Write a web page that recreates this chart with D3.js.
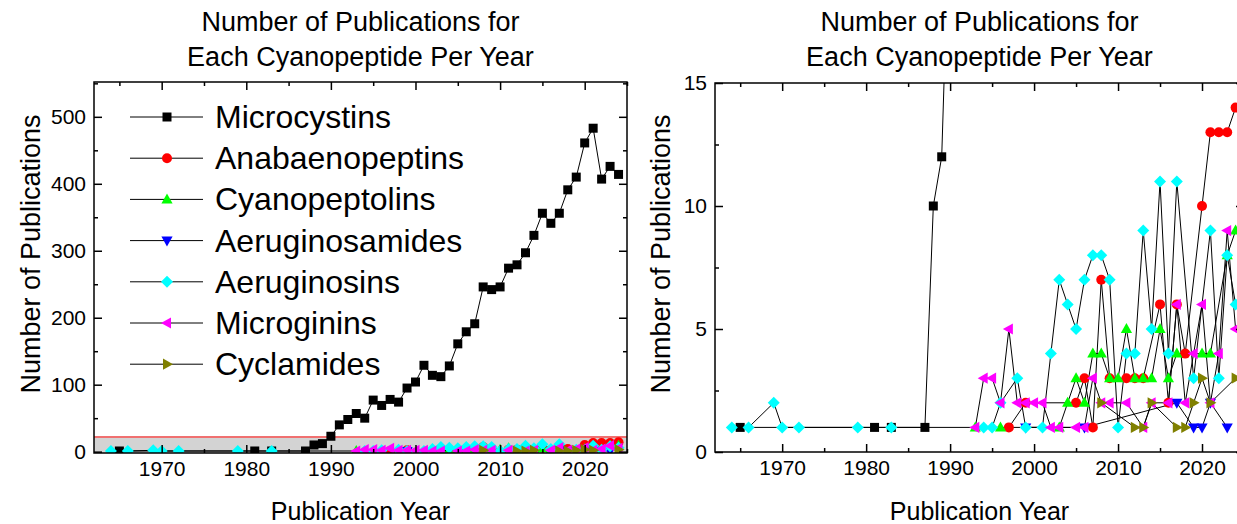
<!DOCTYPE html>
<html lang="en">
<head>
<meta charset="utf-8">
<title>Cyanopeptide Publications</title>
<script src="https://d3js.org/d3.v7.min.js"></script>
<style type="text/css">
	body { margin: 0; background: #fff; }
	svg { display: block; font-family: Arial, "Liberation Sans", sans-serif; }
</style>
</head>
<body>
<script type="text/javascript">

	// publications per year, [year, count] (years with no publications are left out)
	let microcystins = [[1965,1],[1981,1],[1983,1],[1987,1],[1988,10],[1989,12],[1990,23],[1991,40],[1992,48],
		[1993,57],[1994,50],[1995,77],[1996,69],[1997,78],[1998,74],[1999,95],[2000,104],[2001,129],[2002,114],
		[2003,112],[2004,128],[2005,161],[2006,179],[2007,191],[2008,246],[2009,242],[2010,246],[2011,274],
		[2012,279],[2013,297],[2014,323],[2015,356],[2016,341],[2017,356],[2018,391],[2019,410],[2020,461],
		[2021,483],[2022,407],[2023,426],[2024,414]];
	let anabaenopeptins = [[1997,1],[1999,2],[2005,2],[2006,3],[2007,1],[2008,7],[2009,3],[2011,3],[2012,3],
		[2013,3],[2015,6],[2016,2],[2017,6],[2018,4],[2020,10],[2021,13],[2022,13],[2023,13],[2024,14]];
	let cyanopeptolins = [[1993,1],[1996,1],[2003,1],[2004,2],[2005,3],[2006,2],[2007,4],[2008,4],[2009,3],
		[2010,3],[2011,5],[2012,3],[2013,3],[2014,3],[2015,5],[2016,3],[2017,4],[2020,4],[2021,4],[2023,8],[2024,9]];
	let aeruginosamides = [[1999,1],[2006,1],[2017,2],[2019,1],[2020,1],[2021,2],[2023,1]];
	let aeruginosins = [[1964,1],[1966,1],[1969,2],[1970,1],[1972,1],[1979,1],[1983,1],[1994,1],[1995,1],
		[1996,2],[1998,3],[1999,1],[2001,1],[2002,4],[2003,7],[2004,6],[2005,5],[2006,7],[2007,8],[2008,8],
		[2009,7],[2010,1],[2011,4],[2012,4],[2013,9],[2014,5],[2015,11],[2016,4],[2017,11],[2019,3],[2021,9],
		[2022,3],[2023,8],[2024,6]];
	let microginins = [[1993,1],[1994,3],[1995,3],[1996,2],[1997,5],[1998,2],[1999,2],[2000,2],[2001,2],
		[2002,1],[2003,1],[2005,1],[2006,1],[2007,3],[2008,2],[2009,2],[2011,2],[2013,1],[2014,2],[2016,2],
		[2017,6],[2018,2],[2019,4],[2020,6],[2021,2],[2022,4],[2023,9],[2024,5]];
	let cyclamides = [[2008,2],[2012,1],[2013,1],[2014,2],[2017,1],[2018,1],[2019,2],[2020,3],[2021,2],[2024,3]];

	let seriesNames = ["Microcystins", "Anabaenopeptins", "Cyanopeptolins", "Aeruginosamides",
		"Aeruginosins", "Microginins", "Cyclamides"];
	let seriesData = [microcystins, anabaenopeptins, cyanopeptolins, aeruginosamides,
		aeruginosins, microginins, cyclamides];
	let seriesColors = ["#000000", "#ff0000", "#00ff00", "#0000ff", "#00ffff", "#ff00ff", "#808000"];
	let seriesShapes = ["square", "circle", "up", "down", "diamond", "left", "right"];

	let xMajorTicks = [1970, 1980, 1990, 2000, 2010, 2020];
	let xMinorTicks = [1965, 1975, 1985, 1995, 2005, 2015, 2025];
	let leftMajorTicks = [0, 100, 200, 300, 400, 500];
	let leftMinorTicks = [50, 150, 250, 350, 450, 550];
	let rightMajorTicks = [0, 5, 10, 15];
	let rightMinorTicks = [2.5, 7.5, 12.5];

	let titleLines = ["Number of Publications for", "Each Cyanopeptide Per Year"];

	let w = 1237;
	let h = 524;

	let svg = d3.select("body")
		.append("svg")
		.attr("width", w)
		.attr("height", h);

	//marker outline for each shape, centred on 0,0
	function markerPath(shape) {
		if (shape == "square") return "M-4.5,-4.5H4.5V4.5H-4.5Z";
		if (shape == "circle") return "M5,0A5,5 0 1,1 -5,0A5,5 0 1,1 5,0Z";
		if (shape == "diamond") return "M0,-6L6,0L0,6L-6,0Z";
		let tri = [[0, -6], [5.6, 4], [-5.6, 4]];
		let angle = { up: 0, down: 180, left: -90, right: 90 }[shape] * Math.PI / 180;
		return "M" + tri.map(function (p) {
			let x = p[0] * Math.cos(angle) - p[1] * Math.sin(angle);
			let y = p[0] * Math.sin(angle) + p[1] * Math.cos(angle);
			return x.toFixed(2) + "," + y.toFixed(2);
		}).join("L") + "Z";
	}

	function drawPanel(p) {
		let xScale = d3.scaleLinear().domain([1962, 2025]).range([p.x0, p.x1]);
		let yScale = d3.scaleLinear().domain(p.yDomain).range([p.y1, p.y0]);

		let g = svg.append("g");

		let clipId = "clip" + p.id;
		g.append("clipPath").attr("id", clipId)
			.append("rect")
			.attr("x", p.x0).attr("y", p.y0)
			.attr("width", p.x1 - p.x0).attr("height", p.y1 - p.y0);

		//highlighted zoom region
		if (p.band) {
			g.append("rect")
				.attr("x", p.x0)
				.attr("y", yScale(p.band))
				.attr("width", p.x1 - p.x0)
				.attr("height", p.y1 - yScale(p.band))
				.attr("fill", "#d3d3d3");
			g.append("line")
				.attr("x1", p.x0).attr("x2", p.x1)
				.attr("y1", yScale(p.band)).attr("y2", yScale(p.band))
				.attr("stroke", "#f07070")
				.attr("stroke-width", 2);
		}

		let plot = g.append("g").attr("clip-path", "url(#" + clipId + ")");

		let line = d3.line()
			.x(function (d) { return xScale(d[0]); })
			.y(function (d) { return yScale(d[1]); });

		//connecting lines first, markers on top
		seriesData.forEach(function (data) {
			plot.append("path")
				.datum(data)
				.attr("d", line)
				.attr("fill", "none")
				.attr("stroke", "#000")
				.attr("stroke-width", 1);
		});

		seriesData.forEach(function (data, i) {
			plot.selectAll(null)
				.data(data)
				.enter()
				.append("path")
				.attr("d", markerPath(seriesShapes[i]))
				.attr("transform", function (d) {
					return "translate(" + xScale(d[0]) + "," + yScale(d[1]) + ")";
				})
				.attr("fill", seriesColors[i]);
		});

		//axes, ticks pointing inward
		let fmt = d3.format("d");
		let axes = [
			[d3.axisBottom(xScale).tickValues(xMajorTicks).tickSize(-8).tickPadding(8).tickFormat(fmt), "translate(0," + p.y1 + ")"],
			[d3.axisBottom(xScale).tickValues(xMinorTicks).tickSize(-4).tickFormat(""), "translate(0," + p.y1 + ")"],
			[d3.axisTop(xScale).tickValues(xMajorTicks).tickSize(-8).tickFormat(""), "translate(0," + p.y0 + ")"],
			[d3.axisTop(xScale).tickValues(xMinorTicks).tickSize(-4).tickFormat(""), "translate(0," + p.y0 + ")"],
			[d3.axisLeft(yScale).tickValues(p.yMajor).tickSize(-8).tickPadding(8).tickFormat(fmt), "translate(" + p.x0 + ",0)"],
			[d3.axisLeft(yScale).tickValues(p.yMinor).tickSize(-4).tickFormat(""), "translate(" + p.x0 + ",0)"],
			[d3.axisRight(yScale).tickValues(p.yMajor).tickSize(-8).tickFormat(""), "translate(" + p.x1 + ",0)"],
			[d3.axisRight(yScale).tickValues(p.yMinor).tickSize(-4).tickFormat(""), "translate(" + p.x1 + ",0)"]
		];
		axes.forEach(function (a) {
			let ax = g.append("g").attr("transform", a[1]).call(a[0]);
			ax.select(".domain").remove();
			ax.selectAll("line").attr("stroke", "#000").attr("stroke-width", 1.5);
			ax.selectAll("text")
				.attr("font-size", "21px")
				.attr("font-family", "Arial, 'Liberation Sans', sans-serif")
				.attr("fill", "#000");
		});

		//frame
		g.append("rect")
			.attr("x", p.x0).attr("y", p.y0)
			.attr("width", p.x1 - p.x0).attr("height", p.y1 - p.y0)
			.attr("fill", "none")
			.attr("stroke", "#000")
			.attr("stroke-width", 1.5);

		let cx = (p.x0 + p.x1) / 2;

		//title
		titleLines.forEach(function (t, i) {
			g.append("text")
				.attr("x", cx)
				.attr("y", 31 + i * 35)
				.attr("text-anchor", "middle")
				.attr("font-size", "27px")
				.text(t);
		});

		//axis titles
		g.append("text")
			.attr("x", cx)
			.attr("y", 520)
			.attr("text-anchor", "middle")
			.attr("font-size", "25px")
			.text("Publication Year");

		g.append("text")
			.attr("transform", "translate(" + p.yLabelX + ",254) rotate(-90)")
			.attr("text-anchor", "middle")
			.attr("font-size", "27px")
			.text("Number of Publications");
	}

	drawPanel({ id: "L", x0: 94, x1: 627, y0: 82, y1: 453, yDomain: [-2, 552],
		yMajor: leftMajorTicks, yMinor: leftMinorTicks, band: 22, yLabelX: 40 });
	drawPanel({ id: "R", x0: 715, x1: 1244, y0: 83, y1: 452, yDomain: [0, 15],
		yMajor: rightMajorTicks, yMinor: rightMinorTicks, band: null, yLabelX: 670 });

	//legend inside the left panel
	let legend = svg.append("g");
	seriesNames.forEach(function (name, i) {
		let y = 117 + i * 41.2;
		legend.append("line")
			.attr("x1", 130).attr("x2", 203)
			.attr("y1", y).attr("y2", y)
			.attr("stroke", "#000")
			.attr("stroke-width", 1);
		legend.append("path")
			.attr("d", markerPath(seriesShapes[i]))
			.attr("transform", "translate(167," + y + ")")
			.attr("fill", seriesColors[i]);
		legend.append("text")
			.attr("x", 215)
			.attr("y", y + 11)
			.attr("font-size", "32px")
			.text(name);
	});

</script>
</body>
</html>
